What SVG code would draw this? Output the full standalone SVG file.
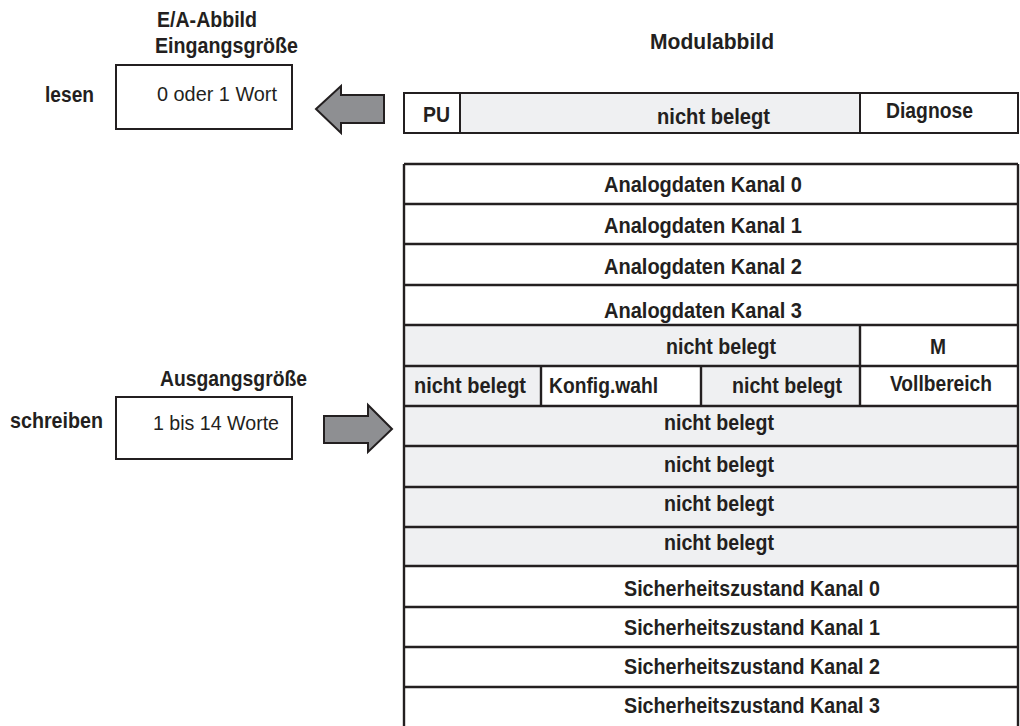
<svg xmlns="http://www.w3.org/2000/svg" width="1020" height="726" viewBox="0 0 1020 726">
<style>
.t{font-family:"Liberation Sans",Arial,sans-serif;font-size:22px;font-weight:bold;fill:#231f20}
.r{font-family:"Liberation Sans",Arial,sans-serif;font-size:21px;fill:#231f20}
.box{fill:#fff;stroke:#231f20;stroke-width:2}
.sh{fill:#eff0f2;stroke:#231f20;stroke-width:2}
.ln{stroke:#231f20;stroke-width:2.4;fill:none}
.arr{fill:#8e8f92;stroke:#231f20;stroke-width:2;stroke-linejoin:miter}
</style>
<rect width="1020" height="726" fill="#fff"/>

<g id="input-image">
<text class="t" x="157" y="27" textLength="100" lengthAdjust="spacingAndGlyphs">E/A-Abbild</text>
<text class="t" x="155" y="53" textLength="143" lengthAdjust="spacingAndGlyphs">Eingangsgröße</text>
<text class="t" x="45" y="102" textLength="49" lengthAdjust="spacingAndGlyphs">lesen</text>
<rect class="box" x="116" y="65" width="176" height="64"/>
<text class="r" x="157" y="101" textLength="120" lengthAdjust="spacingAndGlyphs">0 oder 1 Wort</text>
</g>

<g id="output-image">
<text class="t" x="160" y="386" textLength="147" lengthAdjust="spacingAndGlyphs">Ausgangsgröße</text>
<text class="t" x="10" y="428" textLength="93" lengthAdjust="spacingAndGlyphs">schreiben</text>
<rect class="box" x="116" y="397" width="176" height="62"/>
<text class="r" x="153" y="430" textLength="126" lengthAdjust="spacingAndGlyphs">1 bis 14 Worte</text>
</g>

<g id="connectors">
<polygon class="arr" points="316,109 341,86 341,95 384,95 384,123 341,123 341,133"/>
<polygon class="arr" points="392,429 368,405 368,416 324,416 324,443 368,443 368,452"/>
</g>

<g id="module-title">
<text class="t" x="650" y="49" textLength="124" lengthAdjust="spacingAndGlyphs">Modulabbild</text>
</g>

<g id="status-row">
<rect class="box" x="404" y="93" width="614" height="40"/>
<rect class="sh" x="460" y="93" width="400" height="40"/>
<text class="t" x="423" y="122" textLength="27" lengthAdjust="spacingAndGlyphs">PU</text>
<text class="t" x="657" y="124" textLength="113" lengthAdjust="spacingAndGlyphs">nicht belegt</text>
<text class="t" x="886" y="118" textLength="87" lengthAdjust="spacingAndGlyphs">Diagnose</text>
</g>

<g id="data-table">
<rect x="404" y="325" width="456" height="41" fill="#eff0f2"/>
<rect x="404" y="366" width="137" height="40" fill="#eff0f2"/>
<rect x="701" y="366" width="159" height="40" fill="#eff0f2"/>
<rect x="404" y="406" width="614" height="160" fill="#eff0f2"/>
<path class="ln" d="M404,164 V726 M1018,164 V726 M404,164 H1018 M404,204 H1018 M404,244 H1018 M404,285 H1018 M404,325 H1018 M404,366 H1018 M404,406 H1018 M404,446 H1018 M404,487 H1018 M404,527 H1018 M404,566 H1018 M404,607 H1018 M404,647 H1018 M404,687 H1018 M860,325 V406 M541,366 V406 M701,366 V406"/>
<text class="t" x="604" y="192" textLength="198" lengthAdjust="spacingAndGlyphs">Analogdaten Kanal 0</text>
<text class="t" x="604" y="233" textLength="198" lengthAdjust="spacingAndGlyphs">Analogdaten Kanal 1</text>
<text class="t" x="604" y="274" textLength="198" lengthAdjust="spacingAndGlyphs">Analogdaten Kanal 2</text>
<text class="t" x="604" y="318" textLength="198" lengthAdjust="spacingAndGlyphs">Analogdaten Kanal 3</text>
<text class="t" x="666" y="354" textLength="110" lengthAdjust="spacingAndGlyphs">nicht belegt</text>
<text class="t" x="930" y="354" textLength="16" lengthAdjust="spacingAndGlyphs">M</text>
<text class="t" x="414" y="393" textLength="112" lengthAdjust="spacingAndGlyphs">nicht belegt</text>
<text class="t" x="549" y="393" textLength="109" lengthAdjust="spacingAndGlyphs">Konfig.wahl</text>
<text class="t" x="732" y="393" textLength="110" lengthAdjust="spacingAndGlyphs">nicht belegt</text>
<text class="t" x="890" y="391" textLength="102" lengthAdjust="spacingAndGlyphs">Vollbereich</text>
<text class="t" x="664" y="430" textLength="110" lengthAdjust="spacingAndGlyphs">nicht belegt</text>
<text class="t" x="664" y="472" textLength="110" lengthAdjust="spacingAndGlyphs">nicht belegt</text>
<text class="t" x="664" y="511" textLength="110" lengthAdjust="spacingAndGlyphs">nicht belegt</text>
<text class="t" x="664" y="550" textLength="110" lengthAdjust="spacingAndGlyphs">nicht belegt</text>
<text class="t" x="624" y="596" textLength="256" lengthAdjust="spacingAndGlyphs">Sicherheitszustand Kanal 0</text>
<text class="t" x="624" y="635" textLength="256" lengthAdjust="spacingAndGlyphs">Sicherheitszustand Kanal 1</text>
<text class="t" x="624" y="674" textLength="256" lengthAdjust="spacingAndGlyphs">Sicherheitszustand Kanal 2</text>
<text class="t" x="624" y="713" textLength="256" lengthAdjust="spacingAndGlyphs">Sicherheitszustand Kanal 3</text>
</g>
</svg>
